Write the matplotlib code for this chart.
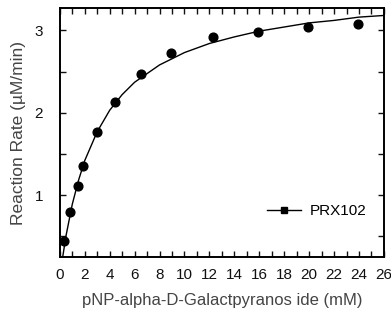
import numpy as np
import matplotlib
matplotlib.use('Agg')
import matplotlib.pyplot as plt
from matplotlib.ticker import MultipleLocator

# measured points (substrate mM, rate uM/min)
conc = [0.3, 0.8, 1.45, 1.85, 3.0, 4.4, 6.5, 8.9, 12.3, 15.9, 19.9, 23.9]
rate = [0.44, 0.79, 1.11, 1.35, 1.77, 2.13, 2.47, 2.73, 2.92, 2.98, 3.04, 3.08]

# fitted curve
fit_x = [0.2, 0.5, 1, 1.5, 2, 3, 4, 5, 6, 8, 10, 12, 14, 16, 18, 20, 22, 24, 26]
fit_y = [0.22, 0.51, 0.89, 1.18, 1.42, 1.77, 2.03, 2.22, 2.37, 2.58, 2.73,
         2.84, 2.92, 2.99, 3.04, 3.09, 3.12, 3.16, 3.18]

plt.rcParams['font.family'] = ['Liberation Sans', 'DejaVu Sans']

fig = plt.figure(figsize=(3.91, 3.22), dpi=100)
ax = fig.add_axes([0.153, 0.202, 0.829, 0.773])

ax.plot(fit_x, fit_y, 'k-', lw=1.0)
ax.plot(conc, rate, 'o', color='black', ms=6.3, zorder=3)
# legend handle
ax.plot([], [], 'k-', marker='s', ms=4.5, lw=1.0, label='PRX102')

ax.set_xlim(0, 26)
ax.set_ylim(0.25, 3.27)
ax.xaxis.set_major_locator(MultipleLocator(2))
ax.xaxis.set_minor_locator(MultipleLocator(1))
ax.yaxis.set_major_locator(MultipleLocator(1))
ax.yaxis.set_minor_locator(MultipleLocator(0.5))
ax.tick_params(which='both', direction='in', top=True, right=True,
               length=4, width=1, labelsize=11, colors='#111111')
ax.tick_params(axis='x', pad=8)
ax.tick_params(axis='y', pad=12)

for s in ax.spines.values():
    s.set_linewidth(1.4)

ax.set_xlabel('pNP-alpha-D-Galactpyranos ide (mM)', fontsize=12, color='#444444', labelpad=8)
ax.set_ylabel('Reaction Rate (\u00b5M/min)', fontsize=12.5, color='#444444', labelpad=6)

ax.legend(loc='lower right', bbox_to_anchor=(0.99, 0.10), frameon=False,
          fontsize=11, handlelength=2.2, handletextpad=0.6)

fig.savefig('out.png', dpi=100)
